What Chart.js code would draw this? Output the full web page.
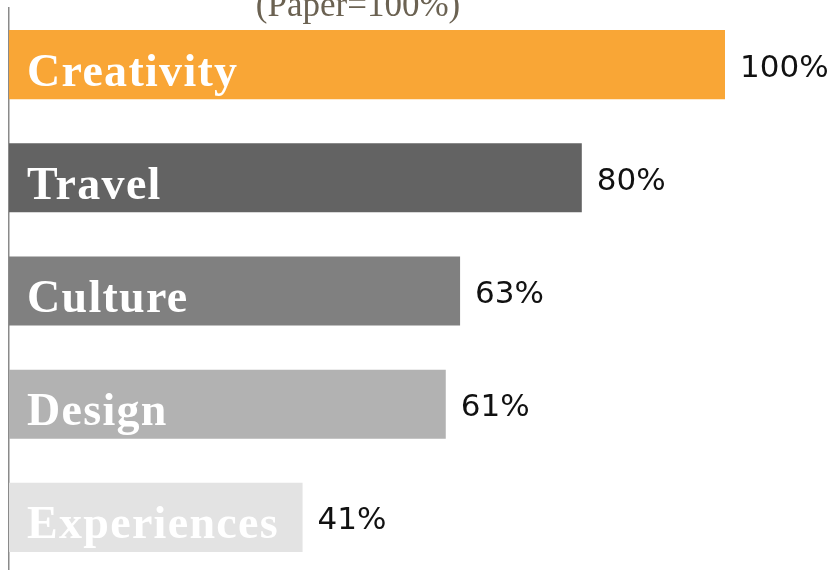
<!DOCTYPE html>
<html>
<head>
<meta charset="utf-8">
<script src="https://cdn.jsdelivr.net/npm/chart.js@4/dist/chart.umd.min.js"></script>
<style>
  html, body { margin: 0; padding: 0; overflow: hidden; background: #fff; }
  #wrap { width: 837px; height: 580px; position: relative; }
</style>
</head>
<body>
<div id="wrap"><canvas id="bars"></canvas></div>
<script>
const categories = ['Creativity', 'Travel', 'Culture', 'Design', 'Experiences']
const values = [100, 80, 63, 61, 41]
const barColors = ['#f9a636', '#636363', '#808080', '#b2b2b2', '#e3e3e3']
const titleText = '(Paper=100%)'

// draws the names inside the bars, the percentages after them, and the cut-off title
const barText = {
  id: 'barText',
  afterDatasetsDraw(chart) {
    const ctx = chart.ctx
    const meta = chart.getDatasetMeta(0)
    ctx.save()
    meta.data.forEach((bar, i) => {
      ctx.textBaseline = 'alphabetic'
      ctx.textAlign = 'left'
      ctx.fillStyle = '#ffffff'
      ctx.font = 'bold 46px "Liberation Serif", serif'
      ctx.letterSpacing = '1.3px'
      ctx.fillText(categories[i], bar.base + 18, bar.y + 21)

      ctx.letterSpacing = '0px'
      ctx.fillStyle = '#111111'
      ctx.font = '31px "DejaVu Sans", sans-serif'
      ctx.textBaseline = 'middle'
      ctx.fillText(values[i] + '%', bar.x + 15, bar.y + 4)
    })
    ctx.fillStyle = '#6b6252'
    ctx.font = '35px "Liberation Serif", serif'
    ctx.textAlign = 'center'
    ctx.textBaseline = 'alphabetic'
    ctx.fillText(titleText, 358, 16)
    ctx.restore()
  }
}

new Chart(document.getElementById('bars').getContext('2d'), {
  type: 'bar',
  data: {
    labels: categories,
    datasets: [{
      data: values,
      backgroundColor: barColors,
      borderWidth: 0,
      barPercentage: 0.61,
      categoryPercentage: 1,
    }],
  },
  options: {
    indexAxis: 'y',
    responsive: true,
    maintainAspectRatio: false,
    animation: false,
    layout: { padding: { left: 9, right: 112, top: 8, bottom: 6 } },
    plugins: {
      legend: { display: false },
      tooltip: { enabled: false },
    },
    scales: {
      x: { display: false, min: 0, max: 100 },
      y: {
        ticks: { display: false },
        grid: { display: false, drawTicks: false },
        border: { display: true, color: '#8a8a8a', width: 1.5 },
      },
    },
  },
  plugins: [barText],
})
</script>
</body>
</html>
